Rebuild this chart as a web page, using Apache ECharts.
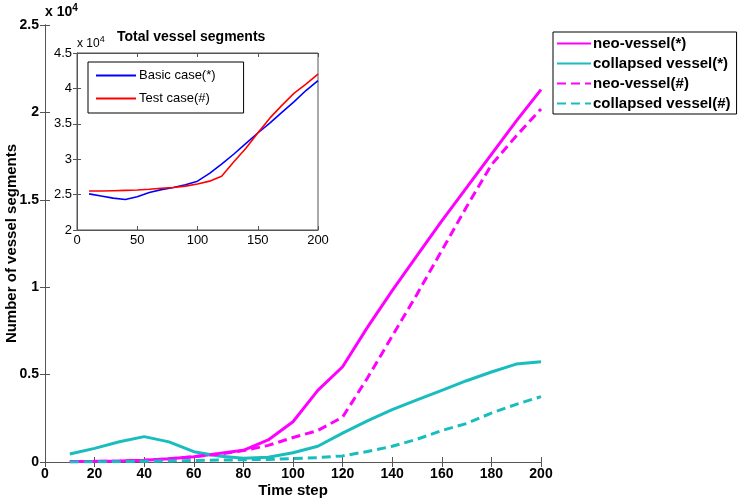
<!DOCTYPE html>
<html>
<head>
<meta charset="utf-8">
<script src="https://cdn.jsdelivr.net/npm/echarts@6/dist/echarts.min.js"></script>
<style>html,body{margin:0;padding:0;background:#fff}#c{width:741px;height:501px}</style>
</head>
<body>
<div id="c"></div>
<script>
// ---- data ----
const timeSteps = [10,20,30,40,50,60,70,80,90,100,110,120,130,140,150,160,170,180,190,200];
const neoStar      = [0.003,0.004,0.006,0.010,0.018,0.030,0.048,0.067,0.126,0.23,0.41,0.545,0.77,0.98,1.18,1.38,1.57,1.76,1.95,2.13];
const collapsedStar= [0.046,0.078,0.116,0.145,0.115,0.059,0.034,0.021,0.027,0.053,0.09,0.165,0.235,0.30,0.355,0.41,0.465,0.515,0.56,0.574];
const neoHash      = [0.002,0.003,0.005,0.010,0.018,0.030,0.045,0.065,0.095,0.14,0.18,0.257,0.48,0.72,0.96,1.21,1.46,1.70,1.865,2.02];
const collapsedHash= [0.000,0.001,0.002,0.004,0.006,0.009,0.011,0.013,0.015,0.02,0.025,0.035,0.06,0.09,0.13,0.18,0.22,0.28,0.33,0.374];
const basicCase    = [2.51,2.48,2.45,2.43,2.47,2.53,2.57,2.60,2.64,2.69,2.80,2.93,3.07,3.22,3.37,3.51,3.66,3.81,3.97,4.11];
const testCase     = [2.55,2.55,2.555,2.56,2.565,2.575,2.59,2.60,2.62,2.65,2.69,2.76,2.96,3.15,3.37,3.58,3.76,3.93,4.06,4.20];
const mainYTicks = [0,0.5,1,1.5,2,2.5];
const insetYTicks = [2,2.5,3,3.5,4,4.5];

const magenta = '#ff00ff', teal = '#19bdbd', blue = '#0000ff', red = '#ff0000';
const axisCol = '#555';
const F = 'Liberation Sans, Arial, sans-serif';

const chart = echarts.init(document.getElementById('c'), null, {renderer:'canvas'});
const pts = arr => arr.map((v,i)=>[timeSteps[i], v]);

const mainLabel = {fontFamily:F, fontWeight:'bold', fontSize:14, color:'#000'};
const insetLabel = {fontFamily:F, fontSize:13, color:'#000'};

function mkLine(name, data, color, dashed, xi, yi, width){
  return {name, type:'line', data:pts(data), xAxisIndex:xi, yAxisIndex:yi,
    showSymbol:false, symbol:'none', smooth:false, animation:false,
    lineStyle:{color, width, type: dashed ? [9,5] : 'solid'}, itemStyle:{color}};
}
const axLine = {lineStyle:{color:axisCol,width:1}};

chart.setOption({
  animation:false,
  grid:[
    {left:45, right:200, top:25, bottom:39, show:false, containLabel:false, outerBoundsMode:'none'},
    {left:77, top:53, width:241, height:177, show:true, backgroundColor:'#fff', borderWidth:1, borderColor:axisCol, z:5, containLabel:false, outerBoundsMode:'none'}
  ],
  xAxis:[
    {gridIndex:0, type:'value', min:0, max:200, interval:20, position:'bottom',
     name:'Time step', nameLocation:'middle', nameGap:21, nameMoveOverlap:false,
     nameTextStyle:{fontFamily:F,fontWeight:'bold',fontSize:15,color:'#000'},
     axisLine:axLine, axisTick:{inside:true,length:5,lineStyle:{color:axisCol}},
     axisLabel:Object.assign({margin:5}, mainLabel), splitLine:{show:false}},
    {gridIndex:0, type:'value', min:0, max:200, interval:20, position:'top',
     axisLine:axLine, axisTick:{inside:true,length:5,lineStyle:{color:axisCol}},
     axisLabel:{show:false}, splitLine:{show:false}},
    {gridIndex:1, type:'value', min:0, max:200, interval:50, position:'bottom',
     axisLine:axLine, axisTick:{inside:true,length:4,lineStyle:{color:axisCol}},
     axisLabel:Object.assign({margin:4}, insetLabel), splitLine:{show:false}, z:6},
    {gridIndex:1, type:'value', min:0, max:200, interval:50, position:'top',
     axisLine:axLine, axisTick:{inside:true,length:4,lineStyle:{color:axisCol}},
     axisLabel:{show:false}, splitLine:{show:false}, z:6}
  ],
  yAxis:[
    {gridIndex:0, type:'value', min:0, max:2.5, interval:0.5, position:'left',
     name:'Number of vessel segments', nameLocation:'middle', nameGap:26, nameRotate:90, nameMoveOverlap:false,
     nameTextStyle:{fontFamily:F,fontWeight:'bold',fontSize:15,color:'#000'},
     axisLine:axLine, axisTick:{inside:true,length:5,lineStyle:{color:axisCol}},
     axisLabel:Object.assign({margin:6, formatter:v=>String(v)}, mainLabel), splitLine:{show:false}},
    {gridIndex:0, type:'value', min:0, max:2.5, interval:0.5, position:'right',
     axisLine:axLine, axisTick:{inside:true,length:5,lineStyle:{color:axisCol}},
     axisLabel:{show:false}, splitLine:{show:false}},
    {gridIndex:1, type:'value', min:2, max:4.5, interval:0.5, position:'left',
     axisLine:axLine, axisTick:{inside:true,length:4,lineStyle:{color:axisCol}},
     axisLabel:Object.assign({margin:5, formatter:v=>String(v)}, insetLabel), splitLine:{show:false}, z:6},
    {gridIndex:1, type:'value', min:2, max:4.5, interval:0.5, position:'right',
     axisLine:axLine, axisTick:{inside:true,length:4,lineStyle:{color:axisCol}},
     axisLabel:{show:false}, splitLine:{show:false}, z:6}
  ],
  legend:[
    {left:553, top:32, orient:'vertical', itemGap:5, itemWidth:34, itemHeight:15,
     padding:[4,6,3,3], borderColor:'#000', borderWidth:1, backgroundColor:'#fff',
     itemStyle:{opacity:0},
     textStyle:{fontFamily:F, fontWeight:'bold', fontSize:15, color:'#000', padding:[0,0,0,-3]},
     data:['neo-vessel(*)','collapsed vessel(*)','neo-vessel(#)','collapsed vessel(#)']},
    {left:88, top:62, orient:'vertical', itemGap:10, itemWidth:40, itemHeight:12,
     padding:[7,28,8,7], borderColor:'#000', borderWidth:1, backgroundColor:'#fff', z:8,
     itemStyle:{opacity:0},
     textStyle:{fontFamily:F, fontSize:13, color:'#000', padding:[0,0,0,-2]},
     data:['Basic case(*)','Test case(#)']}
  ],
  graphic:[
    {type:'text', left:45, top:3, z:10, style:{text:'x 10{s|4}', fontFamily:F, fontWeight:'bold', fontSize:14, fill:'#000',
      rich:{s:{fontSize:10, fontWeight:'bold', fontFamily:F, padding:[0,0,9,0]}}}},
    {type:'text', left:77, top:35, z:10, style:{text:'x 10{s|4}', fontFamily:F, fontSize:12, fill:'#000',
      rich:{s:{fontSize:9, fontFamily:F, padding:[0,0,8,0]}}}},
    {type:'text', left:117, top:30, z:10, style:{text:'Total vessel segments', fontFamily:F, fontWeight:'bold', fontSize:14, fill:'#000'}}
  ],
  series:[
    mkLine('neo-vessel(*)', neoStar, magenta, false, 0, 0, 3),
    mkLine('collapsed vessel(*)', collapsedStar, teal, false, 0, 0, 3),
    mkLine('neo-vessel(#)', neoHash, magenta, true, 0, 0, 3),
    mkLine('collapsed vessel(#)', collapsedHash, teal, true, 0, 0, 3),
    Object.assign(mkLine('Basic case(*)', basicCase, blue, false, 2, 2, 1.6), {z:7}),
    Object.assign(mkLine('Test case(#)', testCase, red, false, 2, 2, 1.6), {z:7})
  ]
});
</script>
</body>
</html>
